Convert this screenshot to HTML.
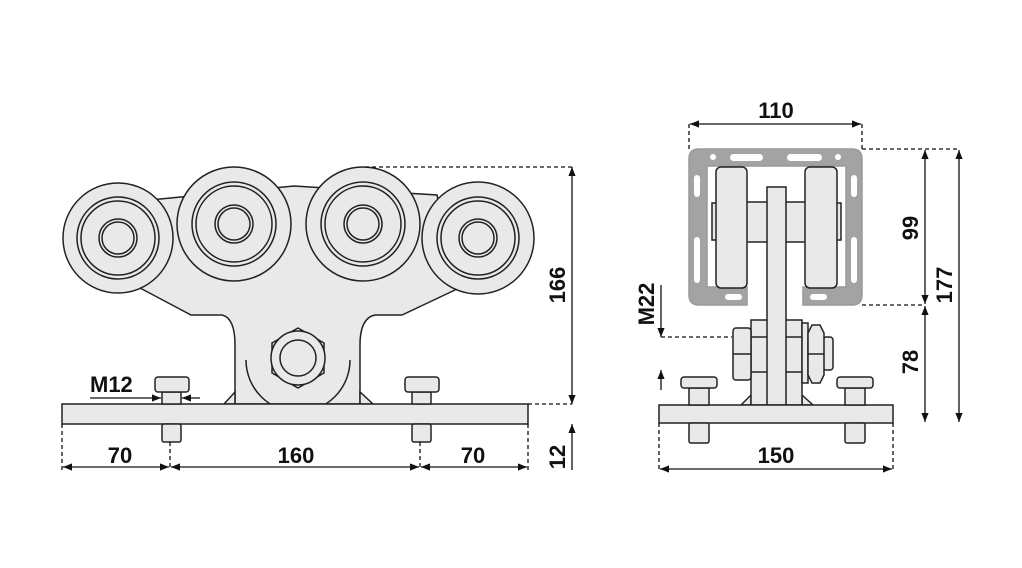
<!DOCTYPE html>
<html><head><meta charset="utf-8"><style>
html,body{margin:0;padding:0;background:#fff;}
svg{display:block}
text{font-family:"Liberation Sans",sans-serif;font-weight:bold;font-size:22px;fill:#111}
</style></head><body>
<svg width="1022" height="568" viewBox="0 0 1022 568" xmlns="http://www.w3.org/2000/svg">
<defs>
<marker id="a" viewBox="0 0 10 10" refX="10" refY="5" markerWidth="7" markerHeight="7" orient="auto-start-reverse"><path d="M0,1 L10,5 L0,9 Z" fill="#111"/></marker>
</defs>
<g stroke="#222" stroke-width="1.5" fill="#e9e9e9">
<!-- LEFT body -->
<path d="M150,200 L294,186 L437,195 L455,290 L402,315 L375,315 Q360,318 360,345 L360,404 L235,404 L235,345 Q235,318 222,315 L191,315 L140,288 Z"/>
<path d="M235,404 L224,404 L235,392 Z M360,404 L373,404 L360,392 Z"/>
<path d="M246,360 A52,52 0 0 0 350,360" fill="none"/>
<polygon points="298,328 324,343 324,373 298,388 272,373 272,343"/>
<circle cx="298" cy="358" r="27"/>
<circle cx="298" cy="358" r="18"/>
<!-- rollers -->
<g>
<circle cx="118" cy="238" r="55"/><circle cx="118" cy="238" r="41" fill="none"/><circle cx="118" cy="238" r="37" fill="none"/><circle cx="118" cy="238" r="19" fill="none"/><circle cx="118" cy="238" r="16" fill="none"/>
<circle cx="234" cy="224" r="57"/><circle cx="234" cy="224" r="42" fill="none"/><circle cx="234" cy="224" r="38" fill="none"/><circle cx="234" cy="224" r="19" fill="none"/><circle cx="234" cy="224" r="16" fill="none"/>
<circle cx="363" cy="224" r="57"/><circle cx="363" cy="224" r="42" fill="none"/><circle cx="363" cy="224" r="38" fill="none"/><circle cx="363" cy="224" r="19" fill="none"/><circle cx="363" cy="224" r="16" fill="none"/>
<circle cx="478" cy="238" r="56"/><circle cx="478" cy="238" r="41" fill="none"/><circle cx="478" cy="238" r="37" fill="none"/><circle cx="478" cy="238" r="19" fill="none"/><circle cx="478" cy="238" r="16" fill="none"/>
</g>
<!-- plate & bolts -->
<rect x="62" y="404" width="466" height="20"/>
<rect x="162" y="424" width="19" height="18" rx="2"/>
<rect x="412" y="424" width="19" height="18" rx="2"/>
<rect x="162" y="392" width="19" height="12"/>
<rect x="412" y="392" width="19" height="12"/>
<rect x="155" y="377" width="34" height="15" rx="3"/>
<rect x="405" y="377" width="34" height="15" rx="3"/>
</g>
<!-- left dims -->
<g stroke="#111" stroke-width="1.3" fill="none">
<path d="M365,167 H572 M528,404 H572 M62,424 V470 M170,442 V470 M420,442 V470 M528,424 V470" stroke-dasharray="4,3"/>
<line x1="572" y1="404" x2="572" y2="167" marker-end="url(#a)" marker-start="url(#a)"/>
<line x1="572" y1="470" x2="572" y2="424" marker-end="url(#a)"/>
<line x1="63" y1="467" x2="169" y2="467" marker-end="url(#a)" marker-start="url(#a)"/>
<line x1="171" y1="467" x2="419" y2="467" marker-end="url(#a)" marker-start="url(#a)"/>
<line x1="421" y1="467" x2="527" y2="467" marker-end="url(#a)" marker-start="url(#a)"/>
<line x1="90" y1="398" x2="161" y2="398" marker-end="url(#a)"/>
<line x1="200" y1="398" x2="182" y2="398" marker-end="url(#a)"/>
</g>
<text x="120" y="463" text-anchor="middle">70</text>
<text x="296" y="463" text-anchor="middle">160</text>
<text x="473" y="463" text-anchor="middle">70</text>
<text x="90" y="392">M12</text>
<text transform="translate(565,285) rotate(-90)" text-anchor="middle">166</text>
<text transform="translate(565,457) rotate(-90)" text-anchor="middle">12</text>

<!-- RIGHT -->
<g stroke="#222" stroke-width="1.5">
<path d="M699,149 H852 Q862,149 862,159 V295 Q862,305 852,305 H803 V287 H846 V166 H707 V287 H747 V305 H699 Q689,305 689,295 V159 Q689,149 699,149 Z" fill="#a3a3a3" stroke="#999"/>
<g fill="#fff" stroke="none">
<rect x="730" y="154" width="33" height="7" rx="3.5"/><rect x="787" y="154" width="35" height="7" rx="3.5"/>
<circle cx="713" cy="157" r="3"/><circle cx="838" cy="157" r="3"/>
<rect x="694" y="175" width="6" height="22" rx="3"/><rect x="694" y="237" width="6" height="46" rx="3"/>
<rect x="851" y="175" width="6" height="22" rx="3"/><rect x="851" y="237" width="6" height="46" rx="3"/>
<rect x="725" y="294" width="17" height="6" rx="3"/><rect x="810" y="294" width="17" height="6" rx="3"/>
</g>
<g fill="#e9e9e9">
<rect x="712" y="203" width="6" height="37"/><rect x="835" y="203" width="6" height="37"/>
<rect x="745" y="202" width="62" height="40"/>
<rect x="716" y="167" width="31" height="121" rx="5"/>
<rect x="805" y="167" width="32" height="121" rx="5"/>
<path d="M741,405 L751,395 L751,405 Z M802,395 L813,405 L802,405 Z"/>
<rect x="751" y="320" width="51" height="85"/>
<line x1="751" y1="337" x2="802" y2="337"/><line x1="751" y1="372" x2="802" y2="372"/>
<rect x="733" y="328" width="18" height="52" rx="3"/><line x1="733" y1="354" x2="751" y2="354"/>
<rect x="802" y="323" width="6" height="60"/>
<rect x="823" y="337" width="10" height="33" rx="3"/>
<path d="M812,325 H820 L824,333 V375 L820,383 H812 L808,375 V333 Z"/><line x1="808" y1="354" x2="824" y2="354"/>
<rect x="767" y="187" width="19" height="218"/>
<rect x="659" y="405" width="234" height="18"/>
<rect x="689" y="423" width="20" height="20" rx="2"/><rect x="845" y="423" width="20" height="20" rx="2"/>
<rect x="689" y="388" width="20" height="17"/><rect x="845" y="388" width="20" height="17"/>
<rect x="681" y="377" width="36" height="11" rx="3"/><rect x="837" y="377" width="36" height="11" rx="3"/>
</g>
</g>
<g stroke="#111" stroke-width="1.3" fill="none">
<path d="M689,124 V149 M862,124 V149 M862,149 H960 M862,305 H925 M659,423 V469 M893,423 V469 M661,337 H732" stroke-dasharray="4,3"/>
<line x1="690" y1="124" x2="861" y2="124" marker-end="url(#a)" marker-start="url(#a)"/>
<line x1="925" y1="150" x2="925" y2="304" marker-end="url(#a)" marker-start="url(#a)"/>
<line x1="925" y1="306" x2="925" y2="422" marker-end="url(#a)" marker-start="url(#a)"/>
<line x1="959" y1="150" x2="959" y2="422" marker-end="url(#a)" marker-start="url(#a)"/>
<line x1="660" y1="469" x2="892" y2="469" marker-end="url(#a)" marker-start="url(#a)"/>
<line x1="661" y1="285" x2="661" y2="337" marker-end="url(#a)"/>
<line x1="661" y1="390" x2="661" y2="370" marker-end="url(#a)"/>
</g>
<text x="776" y="118" text-anchor="middle">110</text>
<text x="776" y="463" text-anchor="middle">150</text>
<text transform="translate(918,228) rotate(-90)" text-anchor="middle">99</text>
<text transform="translate(918,362) rotate(-90)" text-anchor="middle">78</text>
<text transform="translate(952,285) rotate(-90)" text-anchor="middle">177</text>
<text transform="translate(654,304) rotate(-90)" text-anchor="middle">M22</text>
</svg>
</body></html>
